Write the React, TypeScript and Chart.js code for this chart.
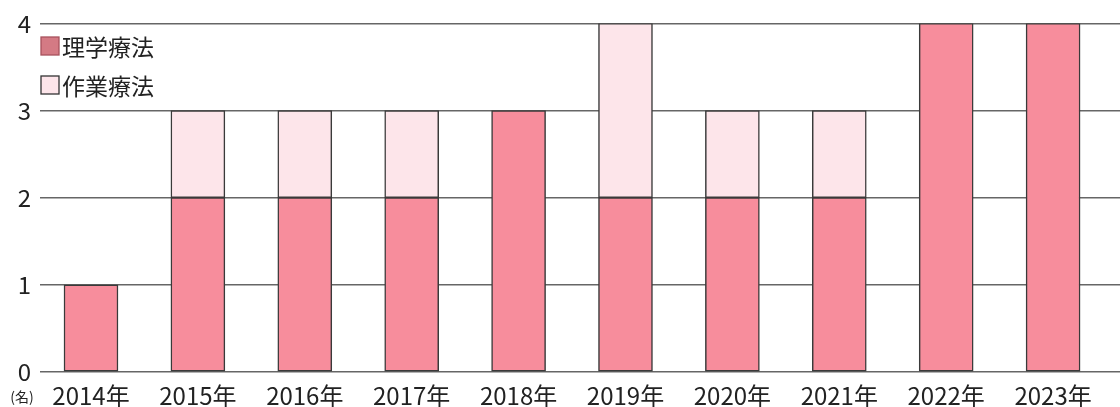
import React, { useEffect, useRef } from "react";
import { Chart, registerables } from "chart.js";

Chart.register(...registerables);

const categories = ["2014年", "2015年", "2016年", "2017年", "2018年", "2019年", "2020年", "2021年", "2022年", "2023年"];
const ptValues = [1, 2, 2, 2, 3, 2, 2, 2, 4, 4];
const otValues = [0, 1, 1, 1, 0, 2, 1, 1, 0, 0];
const yTicks = [0, 1, 2, 3, 4];
const seriesLabels = ["理学療法", "作業療法"];
const unitLabel = "(名)";

const FONT = "'Noto Sans CJK JP', 'Noto Sans', sans-serif";
const PT_COLOR = "#f78d9c";
const OT_COLOR = "#fde5ea";
const EDGE = "#3a3a3a";

const overlayPlugin = {
  id: "overlay",
  afterDraw(chart: any) {
    const ctx = chart.ctx;
    ctx.save();
    const items = [
      { label: seriesLabels[0], fill: "#d47a84", stroke: "#a8525c", y: 46 },
      { label: seriesLabels[1], fill: OT_COLOR, stroke: "#333", y: 85 },
    ];
    items.forEach((it) => {
      ctx.fillStyle = it.fill;
      ctx.fillRect(41, it.y - 9, 18, 18);
      ctx.strokeStyle = it.stroke;
      ctx.lineWidth = 1.3;
      ctx.strokeRect(41, it.y - 9, 18, 18);
      ctx.fillStyle = "#222";
      ctx.font = `23px ${FONT}`;
      ctx.textAlign = "left";
      ctx.textBaseline = "middle";
      ctx.fillText(it.label, 62, it.y + 1);
    });
    ctx.font = `14px ${FONT}`;
    ctx.fillStyle = "#222";
    ctx.textAlign = "center";
    ctx.textBaseline = "middle";
    ctx.fillText(unitLabel, 22, 397);
    ctx.restore();
  },
};

export default function App() {
  const ref = useRef<HTMLCanvasElement>(null);
  useEffect(() => {
    if (!ref.current) return;
    const chart = new Chart(ref.current, {
      type: "bar",
      data: {
        datasets: [
          {
            label: seriesLabels[0],
            data: ptValues.map((v, i) => ({ x: i, y: v })),
            backgroundColor: PT_COLOR,
            borderColor: EDGE,
            borderWidth: 1.5,
            borderSkipped: false,
            barThickness: 54,
          },
          {
            label: seriesLabels[1],
            data: otValues.map((v, i) => ({ x: i, y: v })),
            backgroundColor: OT_COLOR,
            borderColor: EDGE,
            borderWidth: 1.5,
            borderSkipped: false,
            barThickness: 54,
          },
        ],
      },
      options: {
        animation: false,
        responsive: true,
        maintainAspectRatio: false,
        layout: { padding: { top: 21, right: 0, left: 0, bottom: 0 } },
        plugins: { legend: { display: false }, tooltip: { enabled: false } },
        scales: {
          x: {
            type: "linear",
            stacked: true,
            offset: false,
            min: -0.477,
            max: 9.626,
            grid: { display: false, drawTicks: false, offset: false },
            border: { display: false },
            afterBuildTicks: (scale: any) => {
              scale.ticks = categories.map((_, i) => ({ value: i }));
            },
            afterFit: (scale: any) => {
              scale.height = 35;
            },
            ticks: {
              autoSkip: false,
              maxRotation: 0,
              padding: 9,
              color: "#222",
              font: { size: 24, family: FONT },
              callback: (v: any) => categories[Math.round(Number(v))] ?? "",
            },
          },
          y: {
            type: "linear",
            stacked: true,
            min: 0,
            max: 4,
            afterBuildTicks: (scale: any) => {
              scale.ticks = yTicks.map((v) => ({ value: v }));
            },
            afterFit: (scale: any) => {
              scale.width = 40;
            },
            grid: { color: "#666", lineWidth: 1.5, drawTicks: false },
            border: { display: false },
            ticks: {
              padding: 9,
              color: "#222",
              font: { size: 24, family: FONT },
            },
          },
        },
      },
      plugins: [overlayPlugin],
    } as any);
    return () => chart.destroy();
  }, []);
  return (
    <div style={{ position: "fixed", left: 0, top: 0, width: 1120, height: 407, background: "#fff" }}>
      <canvas ref={ref} />
    </div>
  );
}
